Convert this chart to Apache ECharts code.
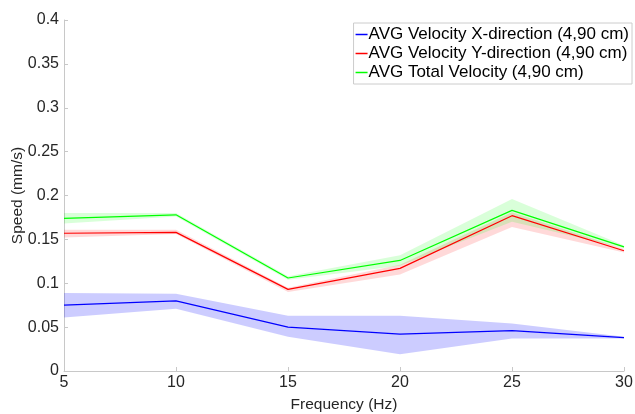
<!DOCTYPE html>
<html>
<head>
<meta charset="utf-8">
<script src="https://cdn.jsdelivr.net/npm/echarts@6/dist/echarts.min.js"></script>
<style>html,body{margin:0;padding:0;background:#fff}#c{width:635px;height:414px}</style>
</head>
<body>
<div id="c"></div>
<script>
var freq = [5, 10, 15, 20, 25, 30];
var xMean = [0.075, 0.080, 0.050, 0.042, 0.046, 0.038];
var xLow  = [0.061, 0.071, 0.039, 0.019, 0.037, 0.037];
var xHigh = [0.089, 0.088, 0.063, 0.063, 0.054, 0.039];
var yMean = [0.157, 0.158, 0.093, 0.117, 0.177, 0.137];
var yLow  = [0.152, 0.156, 0.090, 0.110, 0.164, 0.135];
var yHigh = [0.161, 0.161, 0.095, 0.121, 0.181, 0.139];
var tMean = [0.174, 0.178, 0.106, 0.126, 0.183, 0.1415];
var tLow  = [0.168, 0.176, 0.104, 0.120, 0.170, 0.140];
var tHigh = [0.180, 0.180, 0.108, 0.132, 0.196, 0.143];
var names = ['AVG Velocity X-direction (4,90 cm)', 'AVG Velocity Y-direction (4,90 cm)', 'AVG Total Velocity (4,90 cm)'];
var yTicks = [0, 0.05, 0.1, 0.15, 0.2, 0.25, 0.3, 0.35, 0.4];

var FONT = 'Liberation Sans, Arial, sans-serif';

function pairs(arr){ return freq.map(function(f,i){ return [f, arr[i]]; }); }

function band(lo, hi, color){
  return {
    type:'custom', silent:true, z:1,
    data: freq.map(function(f,i){ return [f, lo[i], hi[i]]; }),
    encode:{x:0, y:[1,2]},
    renderItem:function(params, api){
      if (params.dataIndex !== 0) return null;
      var pts = [];
      for (var i=0;i<freq.length;i++) pts.push(api.coord([freq[i], hi[i]]));
      for (var j=freq.length-1;j>=0;j--) pts.push(api.coord([freq[j], lo[j]]));
      return {type:'polygon', shape:{points:pts}, style:{fill:color, stroke:null}};
    }
  };
}
function main(name, arr, color){
  return {type:'line', name:name, data:pairs(arr), symbol:'none', lineStyle:{color:color, width:1.2}, itemStyle:{color:color}, z:5};
}

var chart = echarts.init(document.getElementById('c'));
chart.setOption({
  animation:false,
  grid:{left:64, right:11, top:20, bottom:43, containLabel:false, outerBoundsMode:'none'},
  legend:{
    data:[{name:names[0], icon:'rect'},{name:names[1], icon:'rect'},{name:names[2], icon:'rect'}],
    orient:'vertical', right:3, top:23,
    borderColor:'#cccccc', borderWidth:1, borderRadius:0,
    padding:[3,3,3,2], itemGap:2, itemWidth:12, itemHeight:1.5,
    textStyle:{fontFamily:FONT, fontSize:17, color:'#000', padding:[0,0,0,-4]},
    backgroundColor:'#fff'
  },
  xAxis:{
    type:'value', min:5, max:30, interval:5,
    name:'Frequency (Hz)', nameLocation:'middle', nameGap:26, nameMoveOverlap:false,
    nameTextStyle:{fontFamily:FONT, fontSize:15.5, color:'#262626'},
    axisLine:{lineStyle:{color:'#c8c8c8', width:1}},
    axisTick:{inside:true, length:4, lineStyle:{color:'#c8c8c8'}},
    axisLabel:{fontFamily:FONT, fontSize:16, color:'#262626', margin:4},
    splitLine:{show:false}
  },
  yAxis:{
    type:'value', min:0, max:0.4, interval:0.05,
    name:'Speed (mm/s)', nameLocation:'middle', nameGap:38, nameMoveOverlap:false,
    nameTextStyle:{fontFamily:FONT, fontSize:15.5, color:'#262626'},
    axisLine:{show:true, lineStyle:{color:'#c8c8c8', width:1}},
    axisTick:{show:true, inside:true, length:4, lineStyle:{color:'#c8c8c8'}},
    axisLabel:{fontFamily:FONT, fontSize:16, color:'#262626', margin:5,
      formatter:function(v){ var t = yTicks.filter(function(k){return Math.abs(k-v)<1e-9;}); return t.length? String(t[0]) : ''; }},
    splitLine:{show:false}
  },
  series: [
    band(xLow, xHigh, 'rgba(0,0,255,0.2)'),
    band(yLow, yHigh, 'rgba(255,0,0,0.15)'),
    band(tLow, tHigh, 'rgba(0,255,0,0.15)'),
    main(names[0], xMean, '#0000ff'), main(names[1], yMean, '#ff0000'), main(names[2], tMean, '#00ff00')
  ]
});
</script>
</body>
</html>
